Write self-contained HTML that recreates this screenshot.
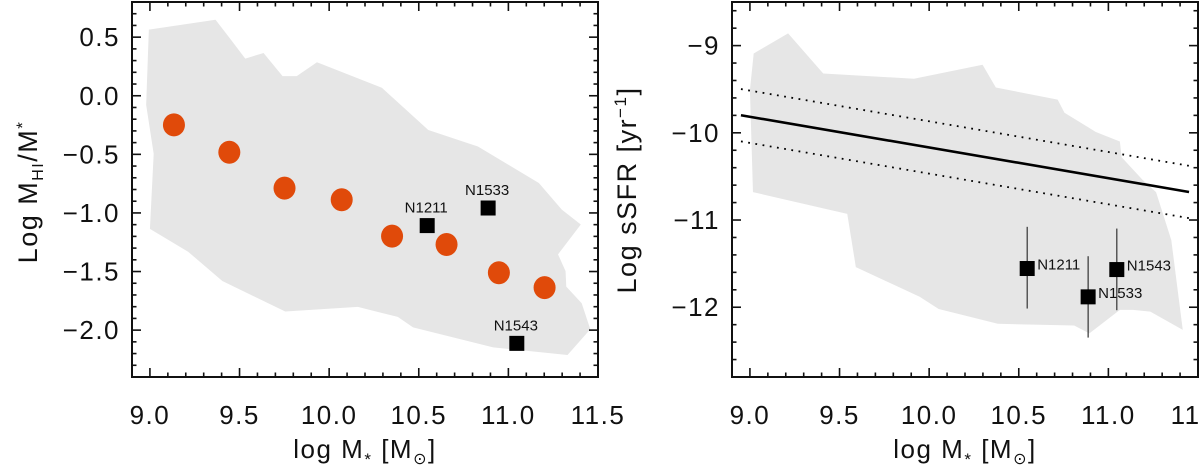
<!DOCTYPE html>
<html><head><meta charset="utf-8"><style>
html,body{margin:0;padding:0;background:#fff;width:1200px;height:465px;overflow:hidden}
svg{display:block}
text{font-family:"Liberation Sans",sans-serif;fill:#111}
.big{letter-spacing:1.5px}
</style></head><body>
<svg id="fig" width="1200" height="465" viewBox="0 0 1200 465" xmlns="http://www.w3.org/2000/svg">
<defs><clipPath id="c1"><rect x="132" y="2" width="466" height="375"/></clipPath>
<clipPath id="c2"><rect x="732" y="2" width="466" height="375"/></clipPath></defs>
<g id="p1"></g>
<g id="p2"></g>
</svg>
<script>
// ---- Left panel data ----
const envLX = [8.994,9.366,9.443,9.532,9.634,9.740,9.819,9.932,10.294,10.553,10.830,11.170,11.298,11.404,11.277,11.319,11.323,11.409,11.457,11.330,10.915,10.468,10.383,10.160,9.755,9.404,9.213,9.0,9.021,8.979];
const envLY = [0.564,0.649,0.496,0.317,0.365,0.167,0.167,0.286,0.068,-0.292,-0.433,-0.745,-0.972,-1.099,-1.354,-1.496,-1.629,-1.771,-1.992,-2.212,-2.147,-1.977,-1.887,-1.802,-1.841,-1.581,-1.331,-1.136,-0.496,-0.079];
const binX = [9.134,9.443,9.751,10.07,10.351,10.655,10.947,11.202];
const binY = [-0.249,-0.482,-0.788,-0.887,-1.198,-1.269,-1.51,-1.637];
const galNames = ["N1211","N1533","N1543"];
const galMass = [10.547,10.887,11.047];
const galHI = [-1.108,-0.958,-2.113];
// ---- Right panel data ----
const envRX = [9.021,9.213,9.409,9.915,10.298,10.372,10.717,10.755,10.930,11.064,11.074,11.191,11.266,11.351,11.415,11.234,11.138,11.064,10.894,10.809,10.383,10.053,9.947,9.591,9.543,9.017,9.0];
const envRY = [-9.09,-8.86,-9.32,-9.38,-9.22,-9.48,-9.62,-9.77,-9.99,-10.10,-10.28,-10.54,-10.68,-11.23,-12.26,-12.05,-12.03,-12.03,-12.30,-12.21,-12.19,-12.02,-11.88,-11.54,-10.93,-10.68,-9.51];
const galSSFR = [-11.556,-11.881,-11.568];
const galErrHi = [-11.078,-11.415,-11.098];
const galErrLo = [-12.015,-12.348,-12.034];
const msLine = {x0:8.95, x1:11.45, zero:-10.168, slope:-0.352, scatter:0.3};
const xTicks = ["9.0","9.5","10.0","10.5","11.0","11.5"];
const xTickVals = [9.0,9.5,10.0,10.5,11.0,11.5];
const yTicksL = ["0.5","0.0","\u22120.5","\u22121.0","\u22121.5","\u22122.0"];
const yTickValsL = [0.5,0.0,-0.5,-1.0,-1.5,-2.0];
const yTicksR = ["\u22129","\u221210","\u221211","\u221212"];
const yTickValsR = [-9,-10,-11,-12];

const NS="http://www.w3.org/2000/svg";
function mk(tag,attrs,parent){const e=document.createElementNS(NS,tag);for(const k in attrs)e.setAttribute(k,attrs[k]);parent.appendChild(e);return e;}

function panel(g, ox, yMin, yMax, yMinorStep, yTickVals, yTicks){
  const L=ox, R=ox+466, T=2, B=377;
  const X=v=>L+(v-8.9)/2.6*466;
  const Y=v=>B-(v-yMin)/(yMax-yMin)*375;
  const tg=mk('g',{},g);
  
  
  for(let i=0;i<=26;i++){const v=8.9+i*0.1;const x=X(v);const maj=Math.abs((v*2)-Math.round(v*2))<1e-6;const len=maj?9:4.5;
    mk('line',{x1:x,x2:x,y1:B,y2:B-len,stroke:'#111','stroke-width':1.6},tg);
    mk('line',{x1:x,x2:x,y1:T,y2:T+len,stroke:'#111','stroke-width':1.6},tg);}
  const n=Math.round((yMax-yMin)/yMinorStep);
  for(let i=0;i<=n;i++){const v=yMin+i*yMinorStep;const y=Y(v);
    const maj=yTickVals.some(t=>Math.abs(t-v)<1e-6);const len=maj?9:4.5;
    mk('line',{x1:L,x2:L+len,y1:y,y2:y,stroke:'#111','stroke-width':1.6},tg);
    mk('line',{x1:R,x2:R-len,y1:y,y2:y,stroke:'#111','stroke-width':1.6},tg);}
  xTickVals.forEach((v,i)=>{const t=mk('text',{x:X(v),y:424,'text-anchor':'middle','font-size':26,'class':'big'},g);t.textContent=xTicks[i];
    
    });
  yTickVals.forEach((v,i)=>{const t=mk('text',{x:L-12,y:Y(v)+9,'text-anchor':'end','font-size':26,'class':'big'},g);t.textContent=yTicks[i];
    
    });
  const xt=mk('text',{x:L+233,y:458,'text-anchor':'middle','font-size':26,'class':'big'},g);
  xt.innerHTML='log M<tspan font-size="17" dy="7">*</tspan><tspan dy="-7"> [M</tspan><tspan font-size="16" dy="6">⊙</tspan><tspan dy="-6">]</tspan>';
  
  
  return {X,Y,L,R,T,B};
}

// Left panel
const g1=document.getElementById('p1');
const d1=mk('g',{'clip-path':'url(#c1)'},g1);
let a=panel(g1,132,-2.4,0.8,0.1,yTickValsL,yTicksL);
const env1=mk('polygon',{points:envLX.map((x,i)=>a.X(x)+','+a.Y(envLY[i])).join(' '),fill:'#e6e6e6'},d1);


binX.forEach((x,i)=>{const c=mk('ellipse',{cx:a.X(x),cy:a.Y(binY[i]),rx:11,ry:11.5,fill:'#e04a0a'},d1);
  
  });
galMass.forEach((x,i)=>{const cx=a.X(x),cy=a.Y(galHI[i]);
  const r=mk('rect',{x:cx-7.5,y:cy-7.5,width:15,height:15,fill:'#000'},d1);
  
  
  const t=mk('text',{x:cx-1,y:cy-13,'text-anchor':'middle','font-size':15},d1);t.textContent=galNames[i];
  
  });
mk('rect',{x:a.L,y:a.T,width:466,height:375,fill:'none',stroke:'#111','stroke-width':2},g1);
const yt1=mk('text',{transform:'translate(37,192) rotate(-90)','text-anchor':'middle','font-size':27,'class':'big'},g1);
yt1.innerHTML='Log M<tspan font-size="16" dy="6">HI</tspan><tspan dy="-6">/M</tspan><tspan font-size="17" dy="-9">*</tspan>';



// Right panel
const g2=document.getElementById('p2');
const d2=mk('g',{'clip-path':'url(#c2)'},g2);
let b=panel(g2,732,-12.8,-8.5,0.2,yTickValsR,yTicksR);
const env2=mk('polygon',{points:envRX.map((x,i)=>b.X(x)+','+b.Y(envRY[i])).join(' '),fill:'#e6e6e6'},d2);


const f=x=>msLine.zero+msLine.slope*(x-10);
const ms=mk('line',{x1:b.X(msLine.x0),y1:b.Y(f(msLine.x0)),x2:b.X(msLine.x1),y2:b.Y(f(msLine.x1)),stroke:'#000','stroke-width':2.6},d2);


[1,-1].forEach(s=>{const l=mk('line',{x1:b.X(msLine.x0),y1:b.Y(f(msLine.x0)+s*msLine.scatter),x2:b.X(msLine.x1),y2:b.Y(f(msLine.x1)+s*msLine.scatter),stroke:'#000','stroke-width':1.8,'stroke-dasharray':'1.8 5.5'},d2);
  
  });
galMass.forEach((x,i)=>{const cx=b.X(x),cy=b.Y(galSSFR[i]);
  const e=mk('line',{x1:cx,x2:cx,y1:b.Y(galErrHi[i]),y2:b.Y(galErrLo[i]),stroke:'#333','stroke-width':1.2},d2);
  
  
  const r=mk('rect',{x:cx-7.5,y:cy-7.5,width:15,height:15,fill:'#000'},d2);
  
  
  const t=mk('text',{x:cx+10,y:cy+1,'font-size':15},d2);t.textContent=galNames[i];
  
  });
mk('rect',{x:b.L,y:b.T,width:466,height:375,fill:'none',stroke:'#111','stroke-width':2},g2);
const yt2=mk('text',{transform:'translate(636,190) rotate(-90)','text-anchor':'middle','font-size':27,'class':'big'},g2);
yt2.innerHTML='Log sSFR [yr<tspan font-size="17" dy="-10">−1</tspan><tspan dy="10">]</tspan>';


</script>
</body></html>
